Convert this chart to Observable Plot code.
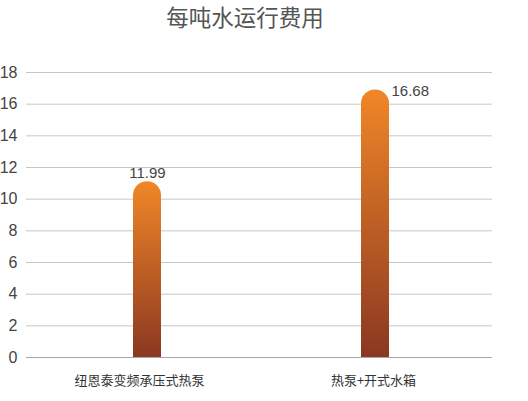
<!DOCTYPE html>
<html><head><meta charset="utf-8">
<script src="https://cdn.jsdelivr.net/npm/d3@7"></script>
<script src="https://cdn.jsdelivr.net/npm/@observablehq/plot@0.6"></script>
<style>
body{margin:0;background:#fff;font-family:"Liberation Sans","Noto Sans CJK SC",sans-serif;}
#title{height:40px;line-height:normal;text-align:center;font-size:22.5px;color:#555;font-family:"Noto Sans CJK SC",sans-serif;padding-right:38px;box-sizing:border-box;}
</style></head>
<body>
<div id="title">每吨水运行费用</div>
<div id="chart"></div>
<script>
const categories = ["纽恩泰变频承压式热泵", "热泵+开式水箱"];
const barValues = [11.1, 16.9];
const valueLabels = ["11.99", "16.68"];
const yTicks = [0, 2, 4, 6, 8, 10, 12, 14, 16, 18];

const data = categories.map((c, i) => ({cat: c, v: barValues[i], label: valueLabels[i]}));

const defs = () => {
  const ns = "http://www.w3.org/2000/svg";
  const d = document.createElementNS(ns, "defs");
  const g = document.createElementNS(ns, "linearGradient");
  g.setAttribute("id", "barGrad");
  g.setAttribute("x1", "0"); g.setAttribute("y1", "0");
  g.setAttribute("x2", "0"); g.setAttribute("y2", "1");
  [["0%", "#f08727"], ["100%", "#8b3822"]].forEach(([o, c]) => {
    const s = document.createElementNS(ns, "stop");
    s.setAttribute("offset", o); s.setAttribute("stop-color", c);
    g.appendChild(s);
  });
  d.appendChild(g);
  return d;
};

const xAxisStyle = {tickSize: 0, tickPadding: 18, fontSize: 13, fill: "#333", label: null, fontFamily: '"Noto Sans CJK SC",sans-serif'};

const chart = Plot.plot({
  width: 528,
  height: 361,
  marginLeft: 26,
  marginRight: 36,
  marginTop: 32,
  marginBottom: 44,
  style: {fontFamily: '"Liberation Sans","Noto Sans CJK SC",sans-serif', background: "#fff"},
  x: {domain: categories, paddingInner: 0.877, paddingOuter: 0.46, align: 0.51, label: null},
  y: {domain: [0, 18], ticks: yTicks, label: null},
  marks: [
    defs,
    Plot.gridY(yTicks, {stroke: "#c6c6c6", strokeOpacity: 1, strokeWidth: 1}),
    Plot.axisY(yTicks, {tickSize: 0, tickPadding: 9, fontSize: 16, fill: "#444", label: null}),
    Plot.axisX(categories.slice(0, 1), {...xAxisStyle, dx: -8}),
    Plot.axisX(categories.slice(1, 2), {...xAxisStyle, dx: -2}),
    Plot.barY(data, {x: "cat", y: "v", fill: "url(#barGrad)", ry1: 14}),
    Plot.ruleY([0], {stroke: "#a8a8a8", strokeWidth: 1.2}),
    Plot.text(data.slice(0, 1), {x: "cat", y: "v", text: "label", lineAnchor: "bottom", dy: -4, fontSize: 15, fill: "#444"}),
    Plot.text(data.slice(1, 2), {x: "cat", y: "v", text: "label", lineAnchor: "bottom", textAnchor: "start", dx: 16, dy: 6, fontSize: 15, fill: "#444"})
  ]
});
document.getElementById("chart").appendChild(chart);
</script>
</body></html>
